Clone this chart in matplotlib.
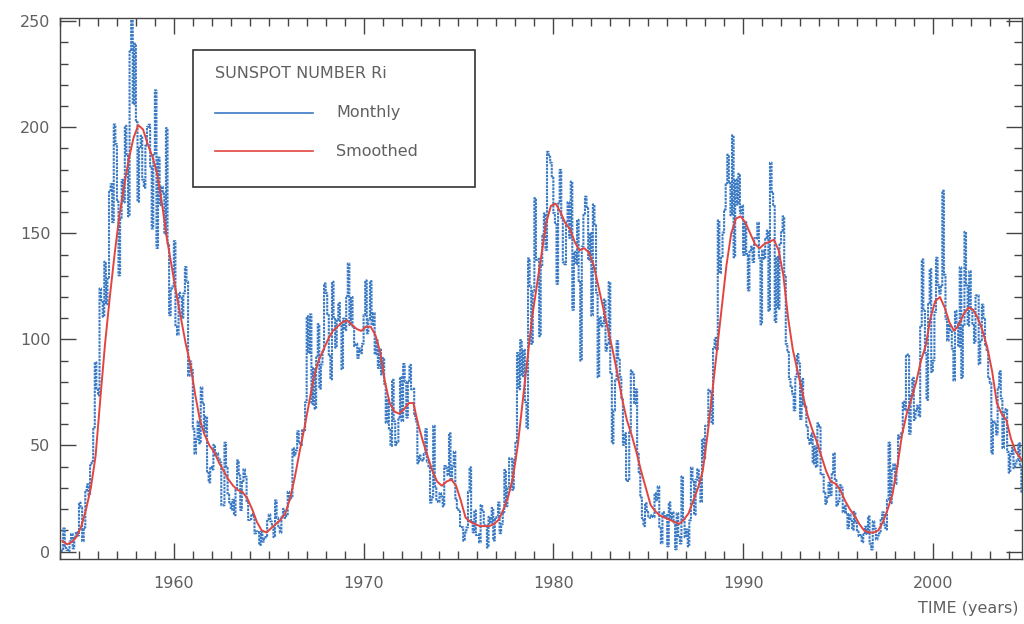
import matplotlib
matplotlib.use("Agg")
import matplotlib.pyplot as plt
from matplotlib.lines import Line2D
from matplotlib.patches import Rectangle
import numpy as np

# Monthly sunspot number, one row per year (Jan..Dec), 1954-2005
monthly_rows = [
    [0.2, 0.5, 10.9, 1.8, 0.8, 0.2, 4.8, 8.4, 1.5, 7.0, 9.2, 7.6],
    [23.1, 20.8, 4.9, 11.3, 28.9, 31.7, 26.7, 40.7, 42.7, 58.5, 89.2, 76.9],
    [73.6, 124.0, 118.4, 110.7, 136.6, 116.6, 129.1, 169.6, 173.2, 155.3, 201.3, 192.1],
    [165.0, 130.2, 157.4, 175.2, 164.6, 200.7, 187.2, 158.0, 235.8, 253.8, 210.9, 239.4],
    [202.5, 164.9, 190.7, 196.0, 175.3, 171.5, 191.4, 200.2, 201.2, 181.5, 152.3, 187.6],
    [217.4, 143.1, 185.7, 163.3, 172.0, 168.7, 149.6, 199.6, 145.2, 111.4, 124.0, 125.0],
    [146.3, 106.0, 102.2, 122.0, 119.6, 110.2, 121.7, 134.1, 127.2, 82.8, 89.6, 85.6],
    [57.9, 46.1, 53.0, 61.4, 51.0, 77.4, 70.2, 55.8, 63.6, 37.7, 32.6, 39.9],
    [38.7, 50.3, 45.6, 46.4, 43.7, 42.0, 21.8, 21.8, 51.3, 39.5, 26.9, 23.2],
    [19.8, 24.4, 17.1, 29.3, 43.0, 35.9, 19.6, 33.2, 38.8, 35.3, 23.4, 14.9],
    [15.3, 17.7, 16.5, 8.6, 9.5, 9.1, 3.1, 9.3, 4.7, 6.1, 7.4, 15.1],
    [17.5, 14.2, 11.7, 6.8, 24.1, 15.9, 11.9, 8.9, 16.8, 20.1, 15.8, 17.0],
    [28.2, 24.4, 25.3, 48.7, 45.3, 47.7, 56.7, 51.2, 50.2, 57.2, 57.2, 70.4],
    [110.9, 93.6, 111.8, 69.5, 86.5, 67.3, 91.5, 107.2, 76.8, 88.2, 94.3, 126.4],
    [121.8, 111.9, 92.2, 81.2, 127.2, 110.3, 96.1, 109.3, 117.2, 107.7, 86.0, 109.8],
    [104.4, 120.5, 135.8, 106.8, 120.0, 106.0, 96.8, 98.0, 91.3, 95.7, 93.5, 97.9],
    [111.5, 127.8, 102.9, 109.5, 127.5, 106.8, 112.5, 93.0, 99.5, 86.6, 95.2, 83.5],
    [91.3, 79.0, 60.7, 71.8, 57.5, 49.8, 81.0, 61.4, 50.2, 51.7, 63.2, 82.2],
    [61.5, 88.4, 80.1, 63.2, 80.5, 88.0, 76.5, 76.8, 64.0, 61.3, 41.6, 45.3],
    [43.4, 42.9, 46.0, 57.7, 42.4, 39.5, 23.1, 25.6, 59.3, 30.7, 23.9, 23.3],
    [27.6, 26.0, 21.3, 40.3, 39.5, 36.0, 55.8, 33.6, 40.2, 47.1, 25.0, 20.5],
    [18.9, 11.5, 11.5, 5.1, 9.0, 11.4, 28.2, 39.7, 13.9, 9.1, 19.4, 7.8],
    [8.1, 4.3, 21.9, 18.8, 12.4, 12.2, 1.9, 16.4, 13.5, 20.6, 5.2, 15.3],
    [16.4, 23.1, 8.7, 12.9, 18.6, 38.5, 21.4, 30.1, 44.0, 43.8, 29.1, 43.2],
    [51.9, 93.6, 76.5, 99.7, 82.7, 95.1, 70.4, 58.1, 138.2, 125.1, 97.9, 122.7],
    [166.6, 137.5, 138.0, 101.5, 134.4, 149.5, 159.4, 142.2, 188.4, 186.2, 183.3, 176.3],
    [159.6, 155.0, 126.2, 164.1, 179.9, 157.3, 136.3, 135.4, 155.0, 164.7, 147.9, 174.4],
    [114.0, 141.3, 135.5, 156.4, 127.5, 90.0, 143.8, 158.7, 167.3, 162.4, 137.5, 150.1],
    [111.2, 163.6, 153.8, 122.0, 82.2, 110.4, 106.1, 107.6, 118.8, 94.7, 98.1, 127.0],
    [84.3, 51.0, 66.5, 80.7, 99.2, 91.1, 82.2, 71.8, 50.3, 55.8, 33.3, 33.4],
    [57.0, 85.4, 83.5, 69.7, 76.4, 46.1, 37.4, 25.5, 15.7, 12.0, 22.8, 18.7],
    [16.5, 15.9, 17.2, 16.2, 27.5, 24.2, 30.7, 11.1, 3.9, 18.6, 16.2, 17.3],
    [2.5, 23.2, 15.1, 18.5, 13.7, 1.1, 18.1, 7.4, 3.8, 35.4, 15.2, 6.8],
    [10.4, 2.4, 14.7, 39.6, 33.0, 17.4, 33.9, 38.8, 33.3, 23.4, 53.1, 44.0],
    [59.3, 59.3, 76.3, 75.5, 60.3, 96.2, 100.7, 95.4, 156.1, 131.3, 138.4, 150.4],
    [161.2, 173.1, 187.1, 173.7, 158.5, 196.2, 138.7, 175.4, 163.6, 178.1, 159.4, 163.1],
    [139.8, 155.3, 140.3, 123.1, 141.4, 143.7, 136.5, 147.7, 147.5, 155.0, 138.4, 107.1],
    [142.0, 138.0, 147.4, 151.3, 113.5, 183.3, 169.5, 163.4, 108.2, 138.9, 114.5, 144.8],
    [150.5, 158.0, 130.3, 97.8, 94.0, 81.3, 77.9, 74.3, 66.6, 82.4, 93.1, 88.7],
    [62.5, 81.4, 69.5, 68.3, 58.6, 52.8, 50.7, 55.7, 41.5, 49.6, 39.9, 60.5],
    [58.6, 36.7, 36.3, 27.7, 22.5, 25.8, 32.4, 26.6, 36.5, 46.3, 33.7, 21.6],
    [23.7, 31.3, 30.2, 18.5, 21.6, 18.3, 11.0, 17.6, 14.4, 10.3, 18.7, 13.5],
    [9.5, 7.3, 7.8, 4.4, 8.1, 11.7, 8.3, 16.6, 3.7, 1.0, 14.3, 10.8],
    [5.7, 7.6, 8.7, 15.5, 18.5, 12.7, 10.4, 24.4, 51.3, 22.8, 39.0, 41.2],
    [31.9, 40.3, 54.8, 53.4, 56.3, 70.7, 66.6, 92.2, 92.9, 55.5, 74.0, 81.9],
    [62.0, 66.3, 68.8, 63.7, 106.4, 137.7, 113.5, 93.7, 71.5, 116.7, 133.2, 84.6],
    [90.1, 112.9, 138.5, 125.5, 121.6, 124.9, 170.1, 130.5, 109.7, 99.4, 106.8, 104.4],
    [95.6, 80.6, 113.5, 107.7, 96.6, 134.0, 81.8, 106.4, 150.7, 125.5, 106.5, 132.2],
    [114.1, 107.4, 98.4, 120.7, 120.8, 88.3, 99.6, 116.4, 109.6, 97.5, 95.0, 81.6],
    [79.5, 46.2, 61.5, 60.0, 55.2, 77.4, 85.0, 72.1, 48.8, 65.6, 67.2, 47.0],
    [37.2, 46.0, 48.9, 39.3, 41.5, 43.2, 51.1, 40.9, 27.7, 48.0, 43.5, 17.9],
    [31.3, 29.2, 24.5, 24.4, 42.6, 39.6, 39.9, 36.4, 22.1, 8.5, 18.0, 41.2],
]

# Smoothed sunspot number, read quarterly (Jan, Apr, Jul, Oct), 1954-2005
smoothed_rows = [
    [5, 3.4, 4.5, 7],
    [12, 20, 30, 45],
    [72, 98, 120, 140],
    [158, 172, 185, 195],
    [201, 199, 192, 186],
    [178, 164, 148, 135],
    [122, 110, 98, 88],
    [74, 62, 55, 50],
    [47, 42, 38, 34],
    [31, 29, 28, 25],
    [20, 14, 10, 9],
    [11, 13, 15, 18],
    [25, 35, 47, 58],
    [70, 82, 90, 95],
    [100, 104, 106, 108],
    [109, 107, 105, 104],
    [106, 106, 102, 94],
    [80, 70, 66, 65],
    [67, 70, 70, 60],
    [52, 45, 38, 33],
    [31, 33, 34, 31],
    [24, 16, 14, 13],
    [12, 12, 12, 13],
    [15, 20, 26, 35],
    [50, 70, 90, 110],
    [125, 140, 155, 163],
    [164, 160, 155, 152],
    [146, 142, 143, 141],
    [135, 125, 115, 105],
    [95, 84, 72, 62],
    [55, 47, 38, 30],
    [22, 19, 17, 16],
    [15, 14, 13, 15],
    [18, 24, 30, 38],
    [55, 75, 95, 115],
    [135, 150, 157, 158],
    [155, 150, 145, 143],
    [145, 146, 147, 142],
    [130, 110, 95, 85],
    [75, 65, 58, 52],
    [45, 38, 33, 32],
    [29, 24, 20, 17],
    [13, 10, 9, 9],
    [10, 14, 20, 27],
    [40, 55, 65, 72],
    [80, 90, 97, 110],
    [118, 120, 115, 108],
    [104, 107, 112, 115],
    [114, 110, 104, 96],
    [85, 70, 65, 62],
    [53, 47, 44, 40],
    [35, 32, 30, 28],
]

start_year = 1954
x_ticks = [1960, 1970, 1980, 1990, 2000]
y_ticks = [0, 50, 100, 150, 200, 250]

monthly = np.concatenate(monthly_rows)
smoothed = np.concatenate(smoothed_rows)
t_month = start_year + (np.arange(len(monthly)) + 0.5) / 12.0
t_smooth = start_year + np.arange(len(smoothed)) * 0.25 + 0.125

blue = "#3a7ac4"
red = "#e2453f"
grey = "#606060"

fig = plt.figure(figsize=(10.24, 6.24), dpi=100)
ax = fig.add_axes([60 / 1024, 1 - 559 / 624, 962 / 1024, 541 / 624])

ax.plot(t_month, monthly, color=blue, lw=1.5, drawstyle="steps-mid",
        linestyle=(0, (1.2, 0.5)))
ax.plot(t_smooth, smoothed, color=red, lw=1.4)

ax.set_xlim(1954.0, 2004.7)
ax.set_ylim(-3.5, 251.5)
ax.set_xticks(x_ticks)
ax.set_xticks(np.arange(1954, 2005), minor=True)
ax.set_yticks(y_ticks)
ax.set_yticks(np.arange(0, 251, 10), minor=True)

ax.tick_params(which="both", direction="in", top=True, right=True,
               colors="#444444", labelcolor=grey, labelsize=11.5, width=1)
ax.tick_params(which="major", length=11.5)
ax.tick_params(which="minor", length=5.5)
ax.tick_params(axis="x", which="major", pad=12)
ax.tick_params(axis="y", which="major", pad=7)
for s in ax.spines.values():
    s.set_color("#444444")
    s.set_linewidth(1.0)

# legend box drawn in figure pixels
def fx(px):
    return px / 1024

def fy(py):
    return 1 - py / 624

fig.patches.append(Rectangle((fx(193), fy(187)), fx(475) - fx(193), fy(50) - fy(187),
                             transform=fig.transFigure, fill=False,
                             edgecolor="#333333", lw=1.2))
fig.text(fx(215), fy(73), "SUNSPOT NUMBER Ri", color=grey, fontsize=11.5, va="center")
fig.lines.append(Line2D([fx(215), fx(313)], [fy(113), fy(113)], color=blue, lw=1.2,
                        transform=fig.transFigure))
fig.lines.append(Line2D([fx(215), fx(313)], [fy(151), fy(151)], color=red, lw=1.2,
                        transform=fig.transFigure))
fig.text(fx(336), fy(113), "Monthly", color=grey, fontsize=11.5, va="center")
fig.text(fx(336), fy(151), "Smoothed", color=grey, fontsize=11.5, va="center")

fig.text(fx(1019), fy(608), "TIME (years)", color=grey, fontsize=11.5,
         ha="right", va="center")

fig.savefig("out.png", dpi=100)
